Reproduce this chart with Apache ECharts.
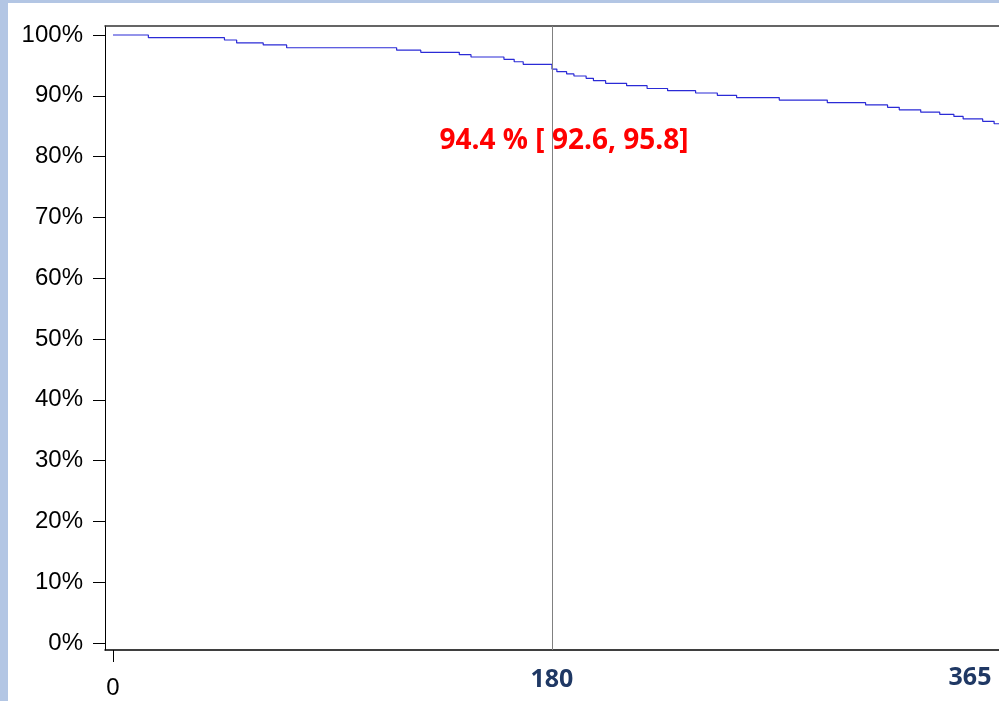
<!DOCTYPE html>
<html>
<head>
<meta charset="utf-8">
<script src="https://cdn.jsdelivr.net/npm/echarts@6/dist/echarts.min.js"></script>
<style>
  html, body { margin: 0; padding: 0; background: #fff; }
  #chart { width: 999px; height: 701px; }
</style>
</head>
<body>
<div id="chart"></div>
<script>
// KM step curve (day, survival %)
var days = [0, 14.5, 45.7, 50.7, 61.6, 71.2, 116.3, 126.2, 142, 146.8, 160.3, 164.5, 168.2,
  180, 182, 186, 189, 194, 197, 202, 210.6, 219, 227.4, 238.9, 247.8, 255.7, 273.2, 292.9,
  308.6, 317.6, 322.4, 331.2, 339, 344.8, 348.6, 356.6, 361.3, 365];
var survival = [100, 99.56, 99.18, 98.7, 98.36, 97.9, 97.5, 97.15, 96.76, 96.38, 96.0, 95.6, 95.18,
  94.4, 93.96, 93.59, 93.26, 92.88, 92.48, 92.05, 91.67, 91.2, 90.84, 90.46, 90.08, 89.7, 89.3, 88.87,
  88.5, 88.1, 87.7, 87.3, 86.95, 86.6, 86.2, 85.8, 85.4, 85.4];

var yTicks = [0, 10, 20, 30, 40, 50, 60, 70, 80, 90, 100];
var xTicks = [0, 180, 365];
var refDay = 180;
var annotation = "94.4 % [ 92.6, 95.8]";

var myChart = echarts.init(document.getElementById("chart"));

var strips = [
  { type: "rect", shape: { x: 0, y: 0, width: 8, height: 701 }, style: { fill: "#b3c6e4" } },
  { type: "rect", shape: { x: 0, y: 0, width: 999, height: 3 }, style: { fill: "#b3c6e4" } }
];

var option = {
  backgroundColor: "#fff",
  animation: false,
  grid: { left: 105, top: 26, right: 0, bottom: 51 },
  xAxis: [
    {
      type: "value",
      min: -3.28,
      max: 363.3,
      splitLine: { show: false },
      axisLine: { onZero: false, lineStyle: { color: "#000", width: 1.5 } },
      axisTick: { customValues: [0], length: 12, lineStyle: { color: "#000" } },
      axisLabel: {
        customValues: [0],
        margin: 26,
        color: "#000",
        fontFamily: "Liberation Sans",
        fontSize: 24
      }
    },
    {
      // top frame line
      type: "value",
      position: "top",
      min: -3.28,
      max: 363.3,
      splitLine: { show: false },
      axisLine: { onZero: false, lineStyle: { color: "#333", width: 1.5 } },
      axisTick: { show: false },
      axisLabel: { show: false }
    }
  ],
  yAxis: {
    type: "value",
    min: -1.15,
    max: 101.48,
    splitLine: { show: false },
    axisLine: { show: true, onZero: false, lineStyle: { color: "#000", width: 1 } },
    axisTick: { show: true, customValues: yTicks, length: 12, lineStyle: { color: "#000" } },
    axisLabel: {
      customValues: yTicks,
      formatter: function (v) { return v + "%"; },
      margin: 22,
      color: "#000",
      fontFamily: "Liberation Sans",
      fontSize: 24
    }
  },
  series: [
    {
      type: "line",
      step: "end",
      symbol: "none",
      data: days.map(function (d, i) { return [d, survival[i]]; }),
      lineStyle: { color: "#2b2bd6", width: 1.2 },
      markLine: {
        silent: true,
        symbol: "none",
        label: { show: false },
        lineStyle: { color: "#808080", width: 1, type: "solid" },
        data: [{ xAxis: refDay }]
      }
    }
  ],
  graphic: strips
};

myChart.setOption(option);

// slide overlays: bold tick labels and the 180-day estimate
var x180 = myChart.convertToPixel({ xAxisIndex: 0 }, xTicks[1]);
myChart.setOption({
  graphic: strips.concat([
    {
      type: "text", x: x180, y: 680,
      style: { text: String(xTicks[1]), fill: "#1f3864", font: "bold 25px 'Open Sans'", align: "center", verticalAlign: "middle" }
    },
    {
      type: "text", x: 970, y: 678,
      style: { text: String(xTicks[2]), fill: "#1f3864", font: "bold 25px 'Open Sans'", align: "center", verticalAlign: "middle" }
    },
    {
      type: "text", x: 564, y: 141,
      style: { text: annotation, fill: "#ff0000", font: "bold 28px 'Open Sans'", align: "center", verticalAlign: "middle" }
    }
  ])
});
</script>
</body>
</html>
